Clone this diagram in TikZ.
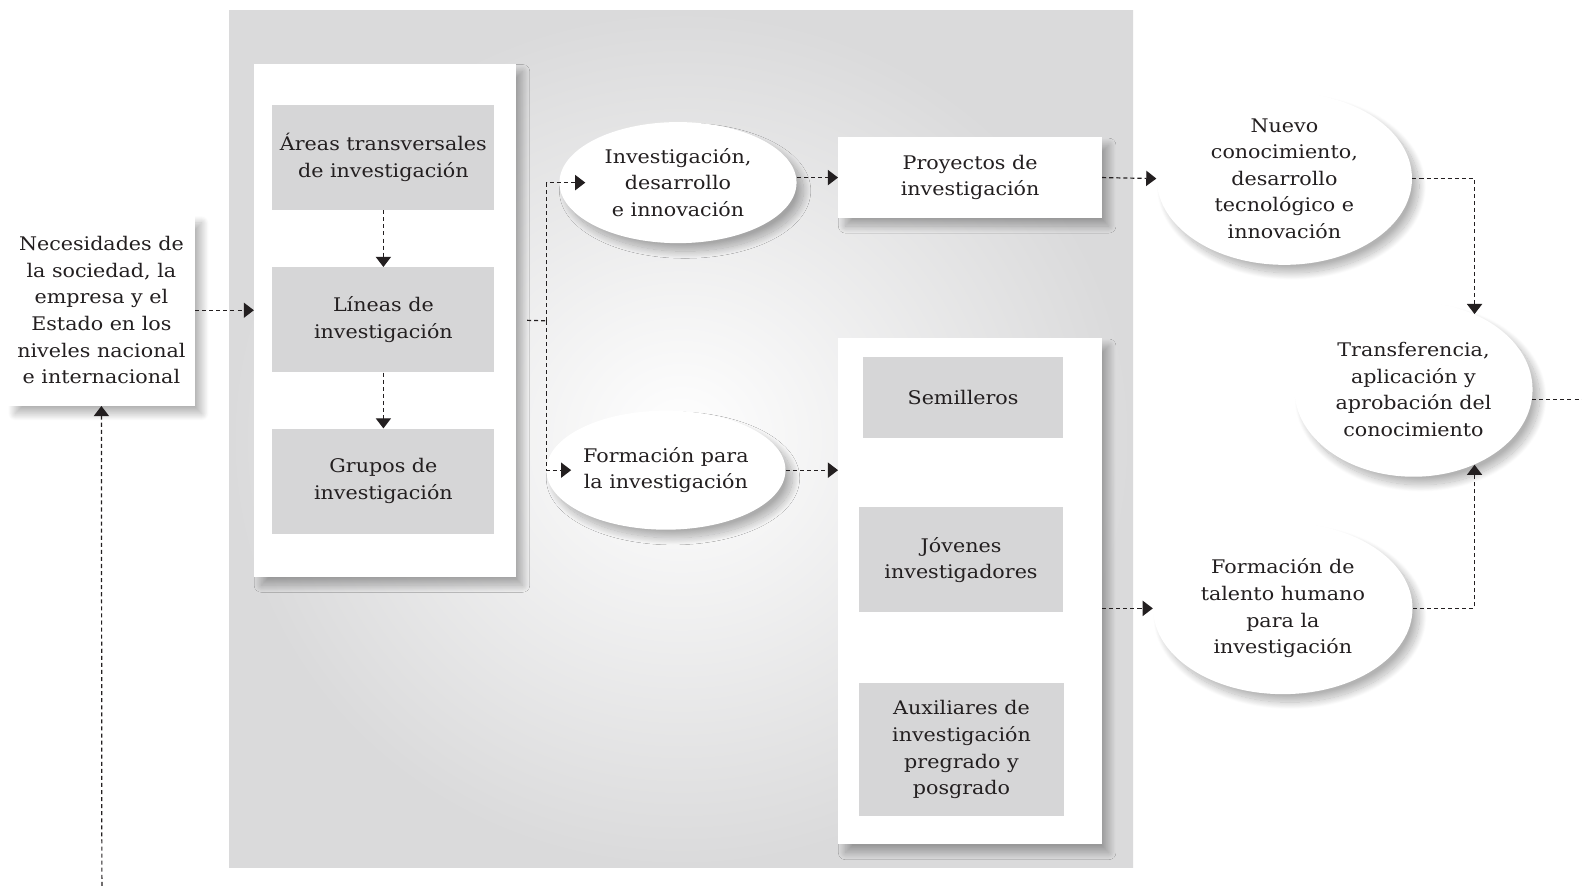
\documentclass[tikz,border=0pt]{standalone}
\usepackage{fontspec}
\setmainfont{DejaVu Serif}[FakeStretch=1.1]
\usetikzlibrary{arrows.meta,positioning,shapes.geometric,shadows.blur}
\definecolor{panelgray}{RGB}{218,218,219}
\definecolor{boxgray}{RGB}{214,214,215}
\definecolor{inkgray}{RGB}{35,31,32}

\tikzset{
  txt/.style={align=center,text=inkgray,font=\fontsize{9.3}{13.2}\selectfont},
  softshadow/.style={blur shadow={shadow xshift=3.5pt,shadow yshift=-4pt,shadow blur radius=3.5pt,shadow blur steps=25,shadow opacity=30}},
  whitebox/.style={rectangle,fill=white,inner sep=0pt,softshadow,txt},
  graybox/.style={rectangle,fill=boxgray,inner sep=0pt,txt},
  oval/.style={ellipse,fill=white,inner sep=0pt,softshadow,txt},
  flowline/.style={draw=inkgray,line width=0.6pt,dash pattern=on 2pt off 1.5pt},
  flow/.style={flowline,-{Triangle[length=5pt,width=7.5pt]}}
}

\begin{document}
\begin{tikzpicture}[x=0.5pt,y=-0.5pt]
    \useasboundingbox (0,0) rectangle (1568,878);

    % Panel
    \shade[inner color=white,outer color=panelgray] (227,10) rectangle (1123,860);

    % Needs
    \node[whitebox,minimum width=92.5pt,minimum height=94.5pt] (nec) at (100.5,307.5)
        {Necesidades de\\la sociedad, la\\empresa y el\\Estado en los\\niveles nacional\\e internacional};

    % Left column
    \node[whitebox,minimum width=129.5pt,minimum height=254.5pt] (lcol) at (381.5,317.5) {};
    \node[graybox,minimum width=110pt,minimum height=52pt] (areas) at (380,156) {Áreas transversales\\de investigación};
    \node[graybox,minimum width=110pt,minimum height=52pt] (lineas) at (380,317) {Líneas de\\investigación};
    \node[graybox,minimum width=110pt,minimum height=52pt] (grupos) at (380,477) {Grupos de\\investigación};

    % Ovals in the middle
    \node[oval,minimum width=117.5pt,minimum height=60pt] (idi) at (672,181) {Investigación,\\desarrollo\\e innovación};
    \node[oval,minimum width=118.5pt,minimum height=59pt] (form) at (660,466) {Formación para\\la investigación};

    % Projects
    \node[whitebox,minimum width=130.5pt,minimum height=40pt] (proy) at (961.5,176) {Proyectos de\\investigación};

    % Right column
    \node[whitebox,minimum width=130.5pt,minimum height=251pt] (rcol) at (961.5,586) {};
    \node[graybox,minimum width=99.5pt,minimum height=40pt] (semi) at (954.5,394) {Semilleros};
    \node[graybox,minimum width=101.5pt,minimum height=52pt] (jov) at (952.5,555) {Jóvenes\\investigadores};
    \node[graybox,minimum width=102pt,minimum height=66pt] (aux) at (953,743) {Auxiliares de\\investigación\\pregrado y\\posgrado};

    % Results
    \node[oval,minimum width=126.5pt,minimum height=85.5pt] (nuevo) at (1273,177) {Nuevo\\conocimiento,\\desarrollo\\tecnológico e\\innovación};
    \node[oval,minimum width=128.5pt,minimum height=85pt] (talento) at (1271.5,603) {Formación de\\talento humano\\para la\\investigación};
    \node[oval,minimum width=118pt,minimum height=86.5pt] (trans) at (1401,386) {Transferencia,\\aplicación y\\aprobación del\\conocimiento};

    % Connectors
    \coordinate (fork) at (542,318);
    \coordinate (src) at (101,878);
    \coordinate (out) at (1568,394);
    \draw[flow] (nec.east) -- (nec.east -| lcol.west);
    \draw[flow] (areas.south) -- (lineas.north);
    \draw[flow] (lineas.south) -- (grupos.north);
    \draw[flowline] ([xshift=5.5pt]lcol.east) -- (fork);
    \draw[flow] (fork) |- ([xshift=13pt]idi.west);
    \draw[flow] (fork) |- ([xshift=12.5pt]form.west);
    \draw[flow] (proy.west -| idi.east) -- (proy.west);
    \draw[flow] (form.east) -- (form.east -| rcol.west);
    \draw[flow] (proy.east) -- (nuevo.west);
    \draw[flow] (talento.west -| rcol.east) -- (talento.west);
    \draw[flow] (nuevo.east) -| (trans.51);
    \draw[flow] (talento.east) -| (trans.-51);
    \draw[flowline] (trans.-5) -- (trans.-5 -| out);
    \draw[flow] (src) -- (nec.south);
\end{tikzpicture}
\end{document}
